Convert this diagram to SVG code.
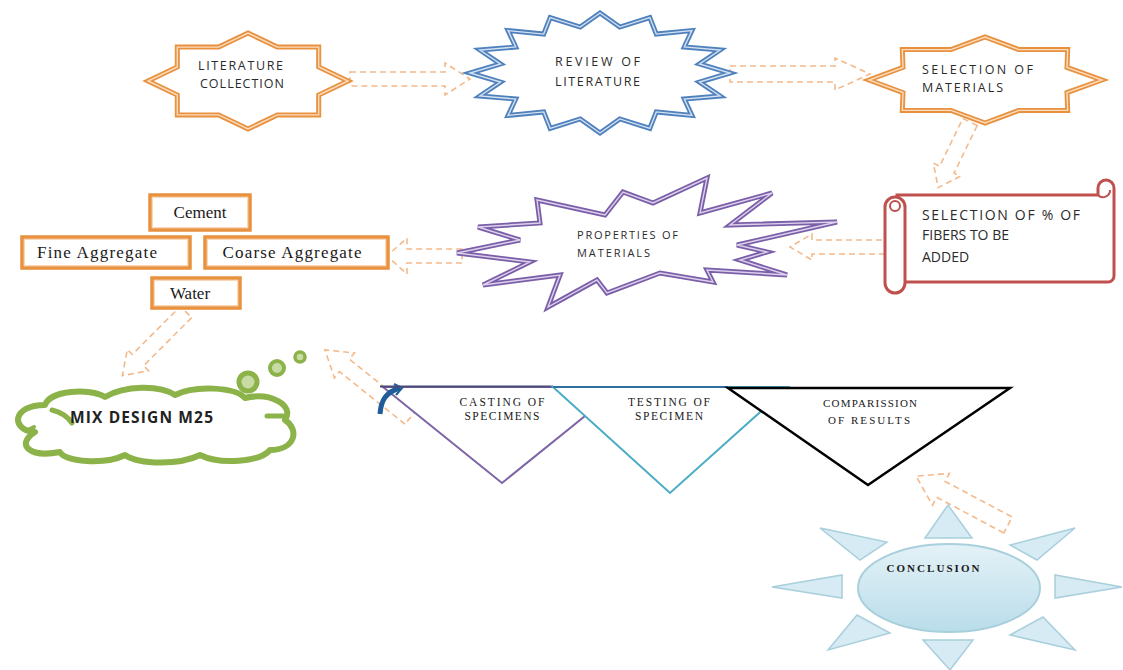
<svg xmlns="http://www.w3.org/2000/svg" width="1123" height="670" viewBox="0 0 1123 670">
<defs>
<style>
.sans{font-family:"Open Sans","Liberation Sans",sans-serif;fill:#2b2b2b;}
.serif{font-family:"Liberation Serif","DejaVu Serif",serif;fill:#1a1a1a;}
.org{fill:#fff;stroke:#E8913E;stroke-width:5;stroke-linejoin:miter;}
.orgIn{fill:none;stroke:#FCDCBE;stroke-width:1.4;}
.box{fill:#fff;stroke:#E8913E;stroke-width:3.5;}
.boxIn{fill:none;stroke:#FAD7B6;stroke-width:1;}
.blue{fill:#fff;stroke:#4F81BD;stroke-width:5;}
.blueIn{fill:none;stroke:#D3E0F1;stroke-width:1.4;}
.pur{fill:#fff;stroke:#7A5FA8;stroke-width:5;}
.purIn{fill:none;stroke:#DCD0EC;stroke-width:1.4;}
.arr{fill:none;stroke:#F4B98A;stroke-width:1.6;stroke-dasharray:6 4;}
.ray{fill:#D6EBF3;stroke:#A9CFDC;stroke-width:1.5;}
.green{fill:#fff;stroke:#8CB34A;stroke-width:6;stroke-linejoin:round;}
</style>
<linearGradient id="sunG" x1="0" y1="0" x2="0" y2="1">
<stop offset="0" stop-color="#E4F2F7"/>
<stop offset="1" stop-color="#B9DDEA"/>
</linearGradient>
</defs>

<g id="connectors">
<polygon class="arr" transform="translate(350,79)" points="0,-7 95,-7 95,-16 120,0 95,16 95,7 0,7"/>
<polygon class="arr" transform="translate(730,74)" points="0,-8 105,-8 105,-16 140,0 105,16 105,8 0,8"/>
<polygon class="arr" transform="translate(970,122) rotate(115.9)" points="0,-8 53,-8 53,-15 73,0 53,15 53,8 0,8"/>
<polygon class="arr" transform="translate(885,247) rotate(180)" points="0,-7 73,-7 73,-13 95,0 73,13 73,7 0,7"/>
<polygon class="arr" transform="translate(462,256) rotate(180)" points="0,-7 55,-7 55,-18 75,0 55,18 55,7 0,7"/>
<polygon class="arr" transform="translate(186,312) rotate(135)" points="0,-8 68,-8 68,-15 90,0 68,15 68,8 0,8"/>
<polygon class="arr" transform="translate(410,418) rotate(-141.3)" points="0,-8 84,-8 84,-16 109,0 84,16 84,8 0,8"/>
<polygon class="arr" transform="translate(1008,525) rotate(-152)" points="0,-9 76,-9 76,-18 104,0 76,18 76,9 0,9"/>
</g>

<g id="literature-collection">
<polygon class="org" points="348,81 318.7,95 318.7,114.9 277.3,114.9 248,129 218.7,114.9 177.3,114.9 177.3,95 148,81 177.3,67 177.3,47.1 218.7,47.1 248,33 277.3,47.1 318.7,47.1 318.7,67"/>
<polygon class="orgIn" points="348,81 318.7,95 318.7,114.9 277.3,114.9 248,129 218.7,114.9 177.3,114.9 177.3,95 148,81 177.3,67 177.3,47.1 218.7,47.1 248,33 277.3,47.1 318.7,47.1 318.7,67"/>
<text class="sans" x="198" y="70" font-size="12.5" textLength="85" lengthAdjust="spacing">LITERATURE</text>
<text class="sans" x="200" y="88" font-size="12.5" textLength="84" lengthAdjust="spacing">COLLECTION</text>
</g>

<g id="review-of-literature">
<polygon class="blue" points="730,73 699.5,82.1 720.1,96 684.3,99 691.9,115.4 656.3,111.9 649.8,128.4 619.8,118.9 600,133 580.2,118.9 550.2,128.4 543.7,111.9 508.1,115.4 515.7,99 479.9,96 500.5,82.1 470,73 500.5,63.9 479.9,50 515.7,47 508.1,30.6 543.7,34.1 550.2,17.6 580.2,27.1 600,13 619.8,27.1 649.8,17.6 656.3,34.1 691.9,30.6 684.3,47 720.1,50 699.5,63.9"/>
<polygon class="blueIn" points="730,73 699.5,82.1 720.1,96 684.3,99 691.9,115.4 656.3,111.9 649.8,128.4 619.8,118.9 600,133 580.2,118.9 550.2,128.4 543.7,111.9 508.1,115.4 515.7,99 479.9,96 500.5,82.1 470,73 500.5,63.9 479.9,50 515.7,47 508.1,30.6 543.7,34.1 550.2,17.6 580.2,27.1 600,13 619.8,27.1 649.8,17.6 656.3,34.1 691.9,30.6 684.3,47 720.1,50 699.5,63.9"/>
<text class="sans" x="555" y="66" font-size="12.5" textLength="85" lengthAdjust="spacing">REVIEW  OF</text>
<text class="sans" x="555" y="86" font-size="12.5" textLength="85" lengthAdjust="spacing">LITERATURE</text>
</g>

<g id="selection-of-materials">
<polygon class="org" points="1102,80 1067,92.6 1067.7,110.4 1019,110.4 985,123 951,110.4 902.3,110.4 903,92.6 869,80 903,67.4 902.3,49.6 951,49.6 985,37 1019,49.6 1067.7,49.6 1067,67.4"/>
<polygon class="orgIn" points="1102,80 1067,92.6 1067.7,110.4 1019,110.4 985,123 951,110.4 902.3,110.4 903,92.6 869,80 903,67.4 902.3,49.6 951,49.6 985,37 1019,49.6 1067.7,49.6 1067,67.4"/>
<text class="sans" x="922" y="74" font-size="12.5" textLength="111" lengthAdjust="spacing">SELECTION  OF</text>
<text class="sans" x="922" y="92" font-size="12.5" textLength="81" lengthAdjust="spacing">MATERIALS</text>
</g>

<g id="selection-of-fibers">
<path d="M1098,195 V188 A8,8 0 0 1 1114,188 V276 A6,6 0 0 1 1108,282 H897 V195 Z" fill="#fff" stroke="#C0504D" stroke-width="3"/>
<path d="M1098,195 A7,7 0 0 0 1110,190" fill="none" stroke="#C0504D" stroke-width="2"/>
<rect x="885" y="197" width="20" height="96" rx="10" fill="#fff" stroke="#C0504D" stroke-width="3"/>
<circle cx="895" cy="206" r="5" fill="#fff" stroke="#C0504D" stroke-width="2"/>
<text class="sans" x="922" y="220" font-size="14" textLength="158" lengthAdjust="spacing">SELECTION OF % OF</text>
<text class="sans" x="922" y="240" font-size="14">FIBERS TO BE</text>
<text class="sans" x="922" y="262" font-size="14">ADDED</text>
</g>

<g id="properties-of-materials">
<polygon class="pur" points="457,253 520,240 478,227 540,223 537,200 605,215 623,192 653,203 707,178 700,213 772,193 730,225 837,222 737,245 767,252 740,260 787,275 707,270 713,282 660,273 607,293 597,280 548,307 560,275 483,285 530,262"/>
<polygon class="purIn" points="457,253 520,240 478,227 540,223 537,200 605,215 623,192 653,203 707,178 700,213 772,193 730,225 837,222 737,245 767,252 740,260 787,275 707,270 713,282 660,273 607,293 597,280 548,307 560,275 483,285 530,262"/>
<text class="sans" x="577" y="239" font-size="11" textLength="101" lengthAdjust="spacing">PROPERTIES  OF</text>
<text class="sans" x="577" y="257" font-size="11" textLength="73" lengthAdjust="spacing">MATERIALS</text>
</g>

<g id="cement">
<rect class="box" x="150" y="195" width="100" height="35"/>
<rect class="boxIn" x="152.5" y="197.5" width="95" height="30"/>
<text class="serif" x="200" y="218" font-size="17" text-anchor="middle">Cement</text>
</g>
<g id="fine-aggregate">
<rect class="box" x="22" y="237" width="168" height="31"/>
<rect class="boxIn" x="24.5" y="239.5" width="163" height="26"/>
<text class="serif" x="97" y="258" font-size="17" text-anchor="middle" textLength="120" lengthAdjust="spacing">Fine Aggregate</text>
</g>
<g id="coarse-aggregate">
<rect class="box" x="205" y="237" width="183" height="31"/>
<rect class="boxIn" x="207.5" y="239.5" width="178" height="26"/>
<text class="serif" x="292" y="258" font-size="17" text-anchor="middle" textLength="139" lengthAdjust="spacing">Coarse Aggregate</text>
</g>
<g id="water">
<rect class="box" x="152" y="278" width="88" height="30"/>
<rect class="boxIn" x="154.5" y="280.5" width="83" height="25"/>
<text class="serif" x="190" y="299" font-size="17" text-anchor="middle">Water</text>
</g>

<g id="mix-design">
<path class="green" d="M35,432 C10,430 12,405 45,405 C50,390 90,388 105,397 C125,385 160,385 175,395 C195,385 235,387 245,398 C270,392 295,405 285,420 C300,430 295,450 270,450 C260,462 220,465 200,455 C180,465 140,465 125,455 C105,465 65,462 60,452 C30,458 15,445 35,432 Z"/>
<path d="M52,410 C60,412 68,417 72,423" fill="none" stroke="#8CB34A" stroke-width="5" stroke-linecap="round"/>
<path d="M26,431 L34,427" fill="none" stroke="#8CB34A" stroke-width="4" stroke-linecap="round"/>
<path d="M267,416 L283,416" fill="none" stroke="#8CB34A" stroke-width="5" stroke-linecap="round"/>
<circle cx="248" cy="382" r="9" fill="#C9DBA5" stroke="#8CB34A" stroke-width="5"/>
<circle cx="277" cy="368" r="7" fill="#C9DBA5" stroke="#8CB34A" stroke-width="4"/>
<circle cx="300" cy="357" r="5" fill="#C9DBA5" stroke="#8CB34A" stroke-width="3.5"/>
<text x="70" y="423" font-size="15.5" font-weight="bold" font-family="'Open Sans','Liberation Sans',sans-serif" fill="#222" textLength="143" lengthAdjust="spacing">MIX DESIGN M25</text>
</g>

<g id="casting-of-specimens">
<polygon points="383,387 621,387 502,483" fill="#fff" stroke="#7E66A6" stroke-width="2"/>
<text class="serif" x="502" y="406" font-size="11.5" text-anchor="middle" textLength="85" lengthAdjust="spacing">CASTING OF</text>
<text class="serif" x="502" y="420" font-size="11.5" text-anchor="middle" textLength="75" lengthAdjust="spacing">SPECIMENS</text>
<path d="M380,414 C381,400 386,392 400,388" fill="none" stroke="#1F5C99" stroke-width="5"/>
<path d="M394,384 L402,388 L396,395" fill="none" stroke="#1F5C99" stroke-width="2"/>
<line x1="380" y1="386.5" x2="553" y2="386.5" stroke="#4A4A7A" stroke-width="2"/>
</g>

<g id="testing-of-specimen">
<polygon points="553,387 788,387 670,493" fill="#fff" stroke="#4BACC6" stroke-width="2"/>
<line x1="553" y1="387" x2="728" y2="387" stroke="#2E6F9E" stroke-width="2"/>
<text class="serif" x="669" y="406" font-size="11.5" text-anchor="middle" textLength="82" lengthAdjust="spacing">TESTING OF</text>
<text class="serif" x="669" y="420" font-size="11.5" text-anchor="middle" textLength="68" lengthAdjust="spacing">SPECIMEN</text>
</g>

<g id="comparision-of-results">
<polygon points="728,388 1010,388 868,485" fill="#fff" stroke="#000" stroke-width="2.5"/>
<text class="serif" x="870" y="407" font-size="11" text-anchor="middle" textLength="94" lengthAdjust="spacing">COMPARISSION</text>
<text class="serif" x="869" y="424" font-size="11" text-anchor="middle" textLength="82" lengthAdjust="spacing">OF RESULTS</text>
</g>

<g id="conclusion">
<polygon class="ray" points="925,538 948,505 972,538"/>
<polygon class="ray" points="820,528 887,542 860,560"/>
<polygon class="ray" points="1075,528 1010,545 1037,560"/>
<polygon class="ray" points="772,587 842,575 842,598"/>
<polygon class="ray" points="1122,587 1055,575 1055,598"/>
<polygon class="ray" points="828,650 857,615 890,633"/>
<polygon class="ray" points="1075,650 1043,617 1010,635"/>
<polygon class="ray" points="923,640 973,640 950,670"/>
<ellipse cx="949" cy="588" rx="91" ry="44" fill="url(#sunG)" stroke="#A9CFDC" stroke-width="2"/>
<text class="serif" x="933" y="572" font-size="11" font-weight="bold" text-anchor="middle" textLength="93" lengthAdjust="spacing">CONCLUSION</text>
</g>
</svg>
